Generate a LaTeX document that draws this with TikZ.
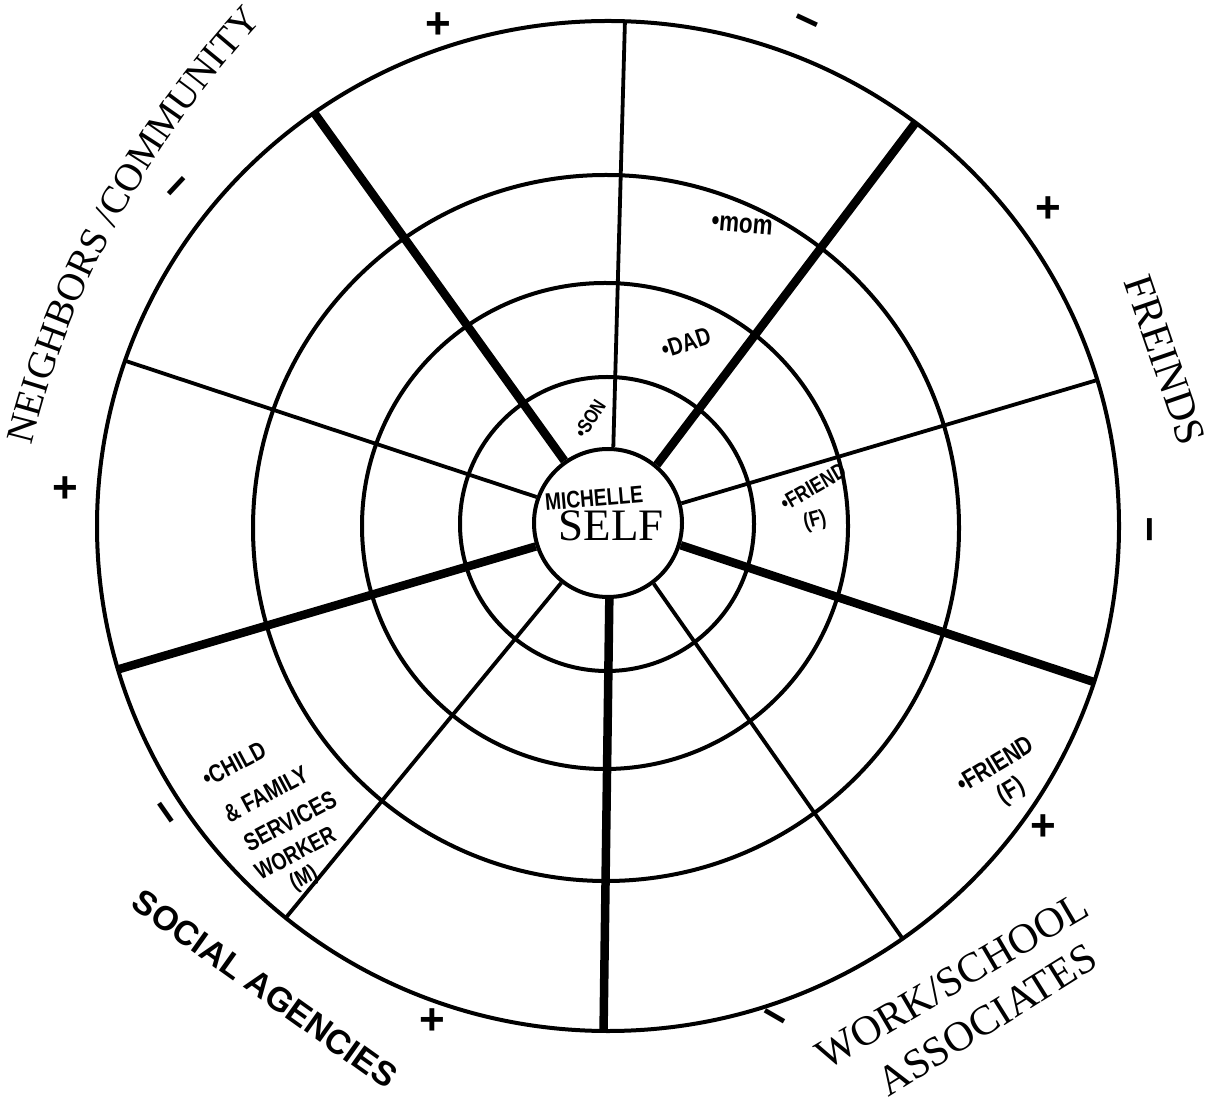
\documentclass[tikz,border=0pt]{standalone}
\usepackage{fontspec}
\setmainfont{Liberation Serif}
\newfontfamily\handfont[FakeStretch=0.8]{Liberation Sans}
\newfontfamily\signfont{Liberation Sans}
\usetikzlibrary{decorations.text}
\begin{document}
\begin{tikzpicture}[x=1pt,y=1pt]
\tikzset{
  ring/.style={line width=4pt},
  thinspoke/.style={line width=3.8pt},
  thickspoke/.style={line width=8.5pt},
  hand/.style={font=\handfont\bfseries\fontsize{#1}{#1}\selectfont, inner sep=0pt},
  sign/.style={font=\signfont\bfseries\fontsize{44}{44}\selectfont, inner sep=0pt},
  serif/.style={font=\fontsize{#1}{#1}\selectfont, inner sep=0pt},
  agency/.style={font=\signfont\bfseries\fontsize{#1}{#1}\selectfont, inner sep=0pt}
}
\useasboundingbox (0,0) rectangle (1214,1109);
\fill[white] (0,0) rectangle (1214,1109);

% centre circle
\node[draw, circle, ring, minimum size=148pt, inner sep=0pt] (self) at (608,586) {};

% rings
\draw[ring] (607,585) circle[radius=147];
\draw[ring] (605,583) circle[radius=243];
\draw[ring] (606,581) circle[radius=353];

\begin{scope}[shift={(608,583)}]
  \draw[ring] (0,0) ellipse[x radius=511, y radius=505];
  \coordinate (tlO) at (125.1:511 and 505);
  \coordinate (trO) at (53.0:511 and 505);
  \coordinate (rbO) at (-18.0:511 and 505);
  \coordinate (bO)  at (-90.5:511 and 505);
  \coordinate (lbO) at (196.5:511 and 505);
  \coordinate (tO)  at (88.1:511 and 505);
  \coordinate (ruO) at (16.8:511 and 505);
  \coordinate (brO) at (-54.8:511 and 505);
  \coordinate (blO) at (230.9:511 and 505);
  \coordinate (luO) at (160.9:511 and 505);
\end{scope}

% thick spokes
\draw[thickspoke] (self.125.5) -- (tlO);
\draw[thickspoke] (self.50.8) -- (trO);
\draw[thickspoke] (self.-17.7) -- (rbO);
\draw[thickspoke] (self.-89.2) -- (bO);
\draw[thickspoke] (self.198.9) -- (lbO);
% thin spokes
\draw[thinspoke] (self.86) -- (tO);
\draw[thinspoke] (self.15.6) -- (ruO);
\draw[thinspoke] (self.-53.4) -- (brO);
\draw[thinspoke] (self.232.3) -- (blO);
\draw[thinspoke] (self.160.4) -- (luO);

% centre labels
\node[hand=24, rotate=5] (michelle) at (594,611) {MICHELLE};
\node[serif=45] (selftext) at (611,583) {SELF};

% handwritten entries
\node[hand=20, rotate=57] (son) at (590,690) {•SON};
\node[hand=25, rotate=18] (dad) at (686,766) {•DAD};
\node[hand=28, rotate=-5] (mom) at (742,884) {•mom};
\node[hand=22, rotate=30] (friend1) at (813,622) {•FRIEND};
\node[hand=22, rotate=15] (friend1f) at (815,588) {(F)};
\node[hand=26, rotate=31, align=center] (friend2) at (1004,330) {•FRIEND\\[4pt](F)};
\node[hand=25, rotate=28] (cfs1) at (234,345) {•CHILD};
\node[hand=25, rotate=28] (cfs2) at (266,315) {\& FAMILY};
\node[hand=25, rotate=28] (cfs3) at (290,288) {SERVICES};
\node[hand=24, rotate=28] (cfs4) at (295,256) {WORKER};
\node[hand=23, rotate=28] (cfs5) at (304,230) {(M)};

% sector labels
\path[decorate, decoration={text along path,
  text={|\fontsize{39}{39}\selectfont|NEIGHBORS /COMMUNITY}, text align=center}]
  (26,639) -- (33,668) .. controls (71,821) and (146,960) .. (259,1085) -- (279,1107);
\node[serif=42, rotate=-71] (friends) at (1165,749) {FREINDS};
\node[agency=34, rotate=-35.5] (social) at (265,120) {SOCIAL AGENCIES};
\node[serif=42, rotate=30.5] (work) at (952,128) {WORK/SCHOOL};
\node[serif=42, rotate=32] (assoc) at (987,89) {ASSOCIATES};

% plus / minus marks
\node[sign] (p1) at (438,1083) {+};
\node[sign, rotate=-25] (m1) at (805,1083) {−};
\node[sign] (p2) at (1048,899) {+};
\node[sign, rotate=90] (m2) at (1156,579) {−};
\node[sign] (p3) at (1043,281) {+};
\node[sign, rotate=-30] (m3) at (772,87) {−};
\node[sign] (p4) at (432,87) {+};
\node[sign, rotate=-55] (m4) at (161,293) {−};
\node[sign] (p5) at (65,619) {+};
\node[sign, rotate=47] (m5) at (181,919) {−};
\end{tikzpicture}
\end{document}
